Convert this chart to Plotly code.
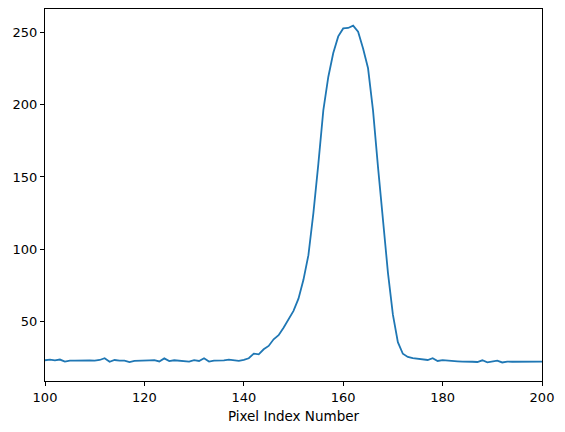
import plotly.graph_objects as go

# pixel index along the profile
pixel_index = list(range(100, 201))

# intensity
intensity = [
    23.5, 24.0, 23.5, 24.0, 22.6, 23.3, 23.3, 23.5, 23.4, 23.5,   # 100-109
    23.3, 23.7, 24.9, 22.5, 23.7, 23.2, 23.3, 22.2, 23.1, 23.4,   # 110-119
    23.6, 23.5, 23.6, 22.7, 24.8, 22.9, 23.5, 23.2, 23.3, 22.6,   # 120-129
    23.6, 23.0, 24.9, 22.6, 23.3, 23.2, 23.4, 24.0, 23.5, 23.1,   # 130-139
    23.8, 24.9, 28.1, 27.6, 31.1, 33.4, 38.0, 40.8, 46.0, 51.8,   # 140-149
    57.6, 66.0, 79.0, 96.0, 125.0, 159.0, 196.0, 219.0, 235.5, 247.0,  # 150-159
    252.5, 252.8, 254.4, 250.2, 238.7, 225.0, 196.0, 157.0, 122.0, 84.0,  # 160-169
    55.0, 36.0, 28.0, 25.8, 25.0, 24.6, 24.2, 23.7, 24.9, 23.0,   # 170-179
    23.6, 23.2, 23.0, 22.8, 22.6, 22.7, 22.5, 22.3, 23.5, 22.1,   # 180-189
    22.6, 23.3, 22.0, 22.6, 22.5, 22.6, 22.5, 22.6, 22.6, 22.5,   # 190-199
    22.6,                                                         # 200
]

x_ticks = [100, 120, 140, 160, 180, 200]
y_ticks = [50, 100, 150, 200, 250]

fig = go.Figure()
fig.add_trace(go.Scatter(x=pixel_index, y=intensity, mode='lines',
                         line=dict(color='#1f77b4', width=1.8), showlegend=False))

axis_style = dict(showgrid=False, zeroline=False, showline=True, linecolor='black',
                  linewidth=1, mirror=True, ticks='outside', ticklen=4, tickwidth=1,
                  tickcolor='black', tickfont=dict(size=13, color='black'))

fig.update_xaxes(range=[100, 200], tickvals=x_ticks,
                 title=dict(text='Pixel Index Number', font=dict(size=13.5, color='black'), standoff=7),
                 **axis_style)
fig.update_yaxes(range=[9.2, 265.9], tickvals=y_ticks, **axis_style)

# page body adds an 8px margin, so the figure is shrunk by that amount
fig.update_layout(width=557, height=424, plot_bgcolor='white', paper_bgcolor='white',
                  font=dict(family='DejaVu Sans'),
                  margin=dict(l=37, r=23, t=1, b=51, autoexpand=False))

fig.write_html("out.html")
